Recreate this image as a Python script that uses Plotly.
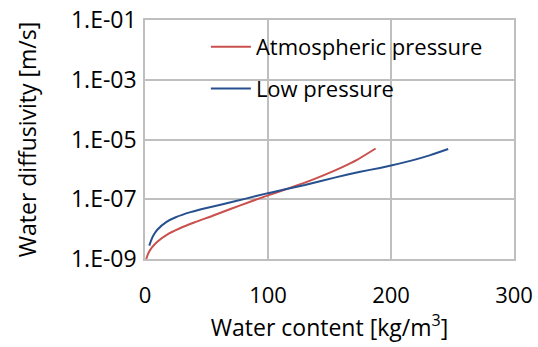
import plotly.graph_objects as go

# Water diffusivity vs. water content, two drying conditions
atm_content = [1, 2.7, 5.5, 10, 18, 28, 40, 55, 70, 85, 100, 115, 130, 145, 160, 172, 187.5]
atm_diffusivity = [1.0e-9, 1.55e-9, 2.4e-9, 3.8e-9, 6.6e-9, 1.05e-8, 1.66e-8, 2.8e-8,
                   4.8e-8, 8.1e-8, 1.35e-7, 2.2e-7, 3.6e-7, 6.3e-7, 1.17e-6, 2.04e-6, 5.0e-6]

low_content = [3.5, 5, 7, 10, 17.5, 25, 37, 50, 64, 82, 100, 130, 155, 175, 191, 200,
               218, 232, 246.5]
low_diffusivity = [2.8e-9, 4.2e-9, 6.3e-9, 9.5e-9, 1.75e-8, 2.5e-8, 3.7e-8, 5.1e-8,
                   6.9e-8, 1.05e-7, 1.6e-7, 3.0e-7, 5.4e-7, 8.3e-7, 1.12e-6, 1.35e-6,
                   2.04e-6, 3.0e-6, 4.8e-6]

y_tickvals = [1e-9, 1e-7, 1e-5, 1e-3, 1e-1]
y_ticktext = ["1.E-09", "1.E-07", "1.E-05", "1.E-03", "1.E-01"]
x_tickvals = [0, 100, 200, 300]

FONT = "Open Sans"
FS = 22
FS_BIG = 23
GRID = "#bfbfbf"

fig = go.Figure()
fig.add_trace(go.Scatter(
    x=atm_content, y=atm_diffusivity, mode="lines", name="Atmospheric pressure",
    line=dict(color="#c9504d", width=2, shape="spline", smoothing=0.6),
    legendgroup="a"))
fig.add_trace(go.Scatter(
    x=low_content, y=low_diffusivity, mode="lines", name="Low pressure",
    line=dict(color="#27508f", width=2, shape="spline", smoothing=0.6),
    legendgroup="b"))

fig.update_layout(
    width=538, height=347,
    margin=dict(l=145, r=24, t=20, b=88),
    paper_bgcolor="white", plot_bgcolor="white",
    font=dict(family=FONT, size=FS, color="#000000"),
    showlegend=True,
    legend=dict(x=0.165, y=0.975, xanchor="left", yanchor="top",
                bgcolor="rgba(0,0,0,0)", font=dict(size=FS, family=FONT),
                tracegroupgap=10, itemwidth=40),
    xaxis=dict(range=[0, 300], tickvals=x_tickvals, showgrid=True,
               gridcolor=GRID, gridwidth=1.5, showline=True, linecolor=GRID,
               linewidth=1.5, mirror=True, zeroline=False, ticks="",
               ticklabelstandoff=16, automargin=False,
               tickfont=dict(size=FS, family=FONT),
               title=dict(text="Water content [kg/m<sup>3</sup>]",
                          font=dict(size=FS_BIG, family=FONT), standoff=0)),
    yaxis=dict(type="log", range=[-9, -1], tickvals=y_tickvals,
               ticktext=y_ticktext, showgrid=True, gridcolor=GRID,
               gridwidth=1.5, showline=True, linecolor=GRID, linewidth=1.5,
               mirror=True, zeroline=False, ticks="", automargin=False,
               ticklabelstandoff=2,
               tickfont=dict(size=FS_BIG, family=FONT),
               title=dict(text="Water diffusivity [m/s]",
                          font=dict(size=FS_BIG, family=FONT), standoff=28)),
)

fig.write_html("out.html")
